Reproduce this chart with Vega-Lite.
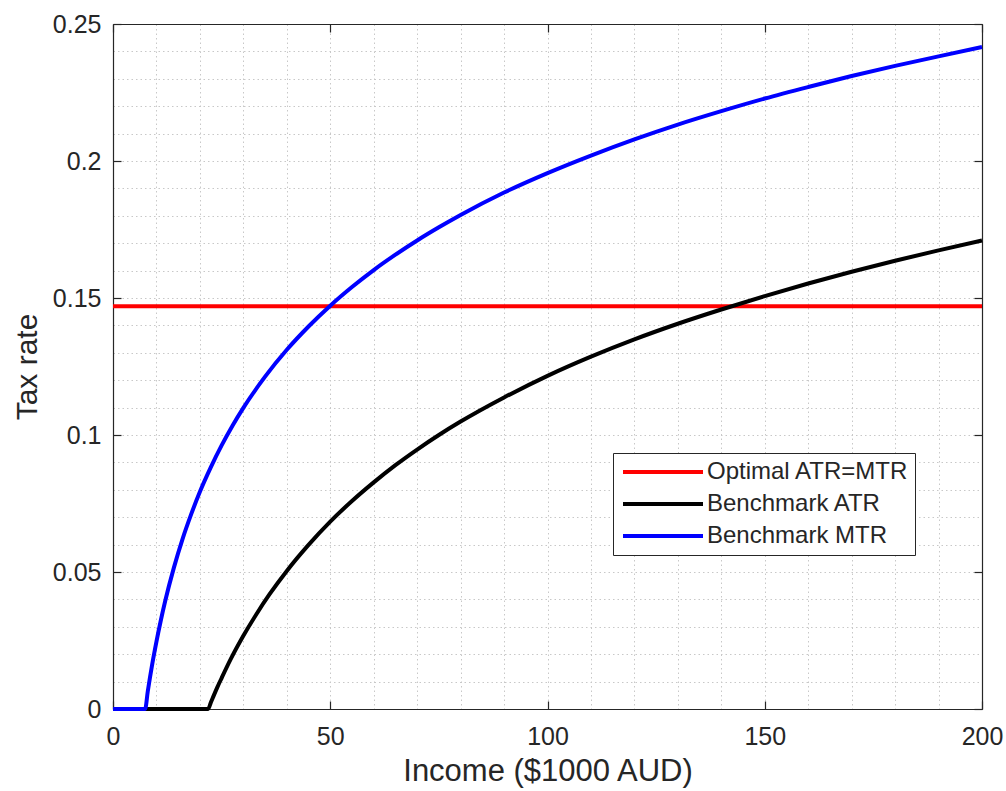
{
  "$schema": "https://vega.github.io/schema/vega-lite/v6.json",
  "width": 869,
  "height": 685,
  "autosize": {"type": "none"},
  "padding": {"left": 113, "top": 24, "right": 24, "bottom": 82},
  "background": "white",
  "config": {
    "view": {"stroke": null},
    "font": "Liberation Sans",
    "axis": {
      "domainColor": "#262626",
      "domainWidth": 1.2,
      "tickColor": "#262626",
      "tickWidth": 1.2,
      "labelColor": "#262626",
      "labelFontSize": 25,
      "titleColor": "#262626",
      "titleFontSize": 30,
      "titleFontWeight": "normal",
      "gridColor": "#c8c8c8",
      "gridDash": [1.5, 3],
      "gridWidth": 1
    },
    "legend": {"strokeWidth": 1}
  },
  "data": {
    "values": [
      {"income": 0, "rate": 0.147, "series": "Optimal ATR=MTR"},
      {"income": 200, "rate": 0.147, "series": "Optimal ATR=MTR"},

      {"income": 0, "rate": 0, "series": "Benchmark ATR"},
      {"income": 21.9, "rate": 0, "series": "Benchmark ATR"},
      {"income": 22.5, "rate": 0.0023, "series": "Benchmark ATR"},
      {"income": 23, "rate": 0.0042, "series": "Benchmark ATR"},
      {"income": 24, "rate": 0.0079, "series": "Benchmark ATR"},
      {"income": 25, "rate": 0.0113, "series": "Benchmark ATR"},
      {"income": 27, "rate": 0.0179, "series": "Benchmark ATR"},
      {"income": 30, "rate": 0.0267, "series": "Benchmark ATR"},
      {"income": 33, "rate": 0.0346, "series": "Benchmark ATR"},
      {"income": 36, "rate": 0.0418, "series": "Benchmark ATR"},
      {"income": 40, "rate": 0.0504, "series": "Benchmark ATR"},
      {"income": 45, "rate": 0.0599, "series": "Benchmark ATR"},
      {"income": 50, "rate": 0.0684, "series": "Benchmark ATR"},
      {"income": 55, "rate": 0.0759, "series": "Benchmark ATR"},
      {"income": 60, "rate": 0.0827, "series": "Benchmark ATR"},
      {"income": 65, "rate": 0.089, "series": "Benchmark ATR"},
      {"income": 70, "rate": 0.0947, "series": "Benchmark ATR"},
      {"income": 75, "rate": 0.1, "series": "Benchmark ATR"},
      {"income": 80, "rate": 0.1049, "series": "Benchmark ATR"},
      {"income": 90, "rate": 0.1137, "series": "Benchmark ATR"},
      {"income": 100, "rate": 0.1216, "series": "Benchmark ATR"},
      {"income": 110, "rate": 0.1286, "series": "Benchmark ATR"},
      {"income": 120, "rate": 0.1349, "series": "Benchmark ATR"},
      {"income": 130, "rate": 0.1406, "series": "Benchmark ATR"},
      {"income": 140, "rate": 0.1458, "series": "Benchmark ATR"},
      {"income": 150, "rate": 0.1507, "series": "Benchmark ATR"},
      {"income": 160, "rate": 0.1553, "series": "Benchmark ATR"},
      {"income": 170, "rate": 0.1596, "series": "Benchmark ATR"},
      {"income": 180, "rate": 0.1636, "series": "Benchmark ATR"},
      {"income": 190, "rate": 0.1674, "series": "Benchmark ATR"},
      {"income": 200, "rate": 0.171, "series": "Benchmark ATR"},

      {"income": 0, "rate": 0, "series": "Benchmark MTR"},
      {"income": 7.4, "rate": 0, "series": "Benchmark MTR"},
      {"income": 8, "rate": 0.0064, "series": "Benchmark MTR"},
      {"income": 9, "rate": 0.0161, "series": "Benchmark MTR"},
      {"income": 10, "rate": 0.0246, "series": "Benchmark MTR"},
      {"income": 11, "rate": 0.0323, "series": "Benchmark MTR"},
      {"income": 12, "rate": 0.0393, "series": "Benchmark MTR"},
      {"income": 14, "rate": 0.0515, "series": "Benchmark MTR"},
      {"income": 16, "rate": 0.062, "series": "Benchmark MTR"},
      {"income": 18, "rate": 0.0711, "series": "Benchmark MTR"},
      {"income": 20, "rate": 0.0793, "series": "Benchmark MTR"},
      {"income": 22.5, "rate": 0.0882, "series": "Benchmark MTR"},
      {"income": 25, "rate": 0.0962, "series": "Benchmark MTR"},
      {"income": 27.5, "rate": 0.1034, "series": "Benchmark MTR"},
      {"income": 30, "rate": 0.1099, "series": "Benchmark MTR"},
      {"income": 35, "rate": 0.1213, "series": "Benchmark MTR"},
      {"income": 40, "rate": 0.1311, "series": "Benchmark MTR"},
      {"income": 45, "rate": 0.1396, "series": "Benchmark MTR"},
      {"income": 50, "rate": 0.1472, "series": "Benchmark MTR"},
      {"income": 55, "rate": 0.154, "series": "Benchmark MTR"},
      {"income": 60, "rate": 0.1602, "series": "Benchmark MTR"},
      {"income": 65, "rate": 0.1658, "series": "Benchmark MTR"},
      {"income": 70, "rate": 0.171, "series": "Benchmark MTR"},
      {"income": 75, "rate": 0.1758, "series": "Benchmark MTR"},
      {"income": 80, "rate": 0.1803, "series": "Benchmark MTR"},
      {"income": 90, "rate": 0.1885, "series": "Benchmark MTR"},
      {"income": 100, "rate": 0.1956, "series": "Benchmark MTR"},
      {"income": 110, "rate": 0.202, "series": "Benchmark MTR"},
      {"income": 120, "rate": 0.2079, "series": "Benchmark MTR"},
      {"income": 130, "rate": 0.2133, "series": "Benchmark MTR"},
      {"income": 140, "rate": 0.2182, "series": "Benchmark MTR"},
      {"income": 150, "rate": 0.2228, "series": "Benchmark MTR"},
      {"income": 160, "rate": 0.227, "series": "Benchmark MTR"},
      {"income": 170, "rate": 0.231, "series": "Benchmark MTR"},
      {"income": 180, "rate": 0.2347, "series": "Benchmark MTR"},
      {"income": 190, "rate": 0.2382, "series": "Benchmark MTR"},
      {"income": 200, "rate": 0.2416, "series": "Benchmark MTR"}
    ]
  },
  "encoding": {
    "color": {
      "field": "series",
      "type": "nominal",
      "scale": {
        "domain": ["Optimal ATR=MTR", "Benchmark ATR", "Benchmark MTR"],
        "range": ["#ff0000", "#000000", "#0000ff"]
      },
      "legend": {
        "orient": "none",
        "legendX": 500,
        "legendY": 429,
        "title": null,
        "symbolType": "stroke",
        "symbolSize": 6400,
        "symbolStrokeWidth": 4,
        "symbolOffset": 2,
        "clipHeight": 26,
        "rowPadding": 6,
        "padding": 6,
        "labelOffset": 2,
        "labelFontSize": 24,
        "labelLimit": 400,
        "labelColor": "#262626",
        "strokeColor": "#262626",
        "fillColor": "white",
        "cornerRadius": 0
      }
    }
  },
  "layer": [
    {
      "transform": [{"filter": "datum.series === 'Optimal ATR=MTR'"}],
      "mark": {"type": "line", "strokeWidth": 4},
      "encoding": {
        "x": {
          "field": "income",
          "type": "quantitative",
          "scale": {"domain": [0, 200], "nice": false, "zero": false},
          "axis": {
            "orient": "bottom",
            "values": [0, 10, 20, 30, 40, 50, 60, 70, 80, 90, 100, 110, 120, 130, 140, 150, 160, 170, 180, 190, 200],
            "grid": true,
            "labelExpr": "datum.value % 50 === 0 ? datum.label : ''",
            "format": "d",
            "tickSize": -8,
            "tickOpacity": {"condition": {"test": "datum.value % 50 === 0", "value": 1}, "value": 0},
            "labelPadding": 23,
            "labelFlush": false,
            "labelOverlap": false,
            "title": "Income ($1000 AUD)",
            "titleFontSize": 31,
            "titlePadding": 7
          }
        },
        "y": {
          "field": "rate",
          "type": "quantitative",
          "scale": {"domain": [0, 0.25], "nice": false},
          "axis": {
            "orient": "left",
            "values": [0, 0.01, 0.02, 0.03, 0.04, 0.05, 0.06, 0.07, 0.08, 0.09, 0.1, 0.11, 0.12, 0.13, 0.14, 0.15, 0.16, 0.17, 0.18, 0.19, 0.2, 0.21, 0.22, 0.23, 0.24, 0.25],
            "grid": true,
            "labelExpr": "round(datum.value * 100) % 5 === 0 ? format(datum.value, '~g') : ''",
            "tickSize": -8,
            "tickOpacity": {"condition": {"test": "round(datum.value * 100) % 5 === 0", "value": 1}, "value": 0},
            "labelPadding": 20,
            "labelFlush": false,
            "labelOverlap": false,
            "title": "Tax rate",
            "titlePadding": 10
          }
        }
      }
    },
    {
      "transform": [{"filter": "datum.series === 'Benchmark ATR'"}],
      "mark": {"type": "line", "strokeWidth": 4, "interpolate": "monotone"},
      "encoding": {
        "x": {
          "field": "income",
          "type": "quantitative",
          "axis": {
            "orient": "top",
            "values": [0, 50, 100, 150, 200],
            "grid": false,
            "labels": false,
            "tickSize": -8,
            "title": null
          }
        },
        "y": {
          "field": "rate",
          "type": "quantitative",
          "axis": {
            "orient": "right",
            "values": [0, 0.05, 0.1, 0.15, 0.2, 0.25],
            "grid": false,
            "labels": false,
            "tickSize": -8,
            "title": null
          }
        }
      }
    },
    {
      "transform": [{"filter": "datum.series === 'Benchmark MTR'"}],
      "mark": {"type": "line", "strokeWidth": 4, "interpolate": "monotone"},
      "encoding": {
        "x": {"field": "income", "type": "quantitative", "axis": null},
        "y": {"field": "rate", "type": "quantitative", "axis": null}
      }
    }
  ],
  "resolve": {"axis": {"x": "independent", "y": "independent"}}
}
